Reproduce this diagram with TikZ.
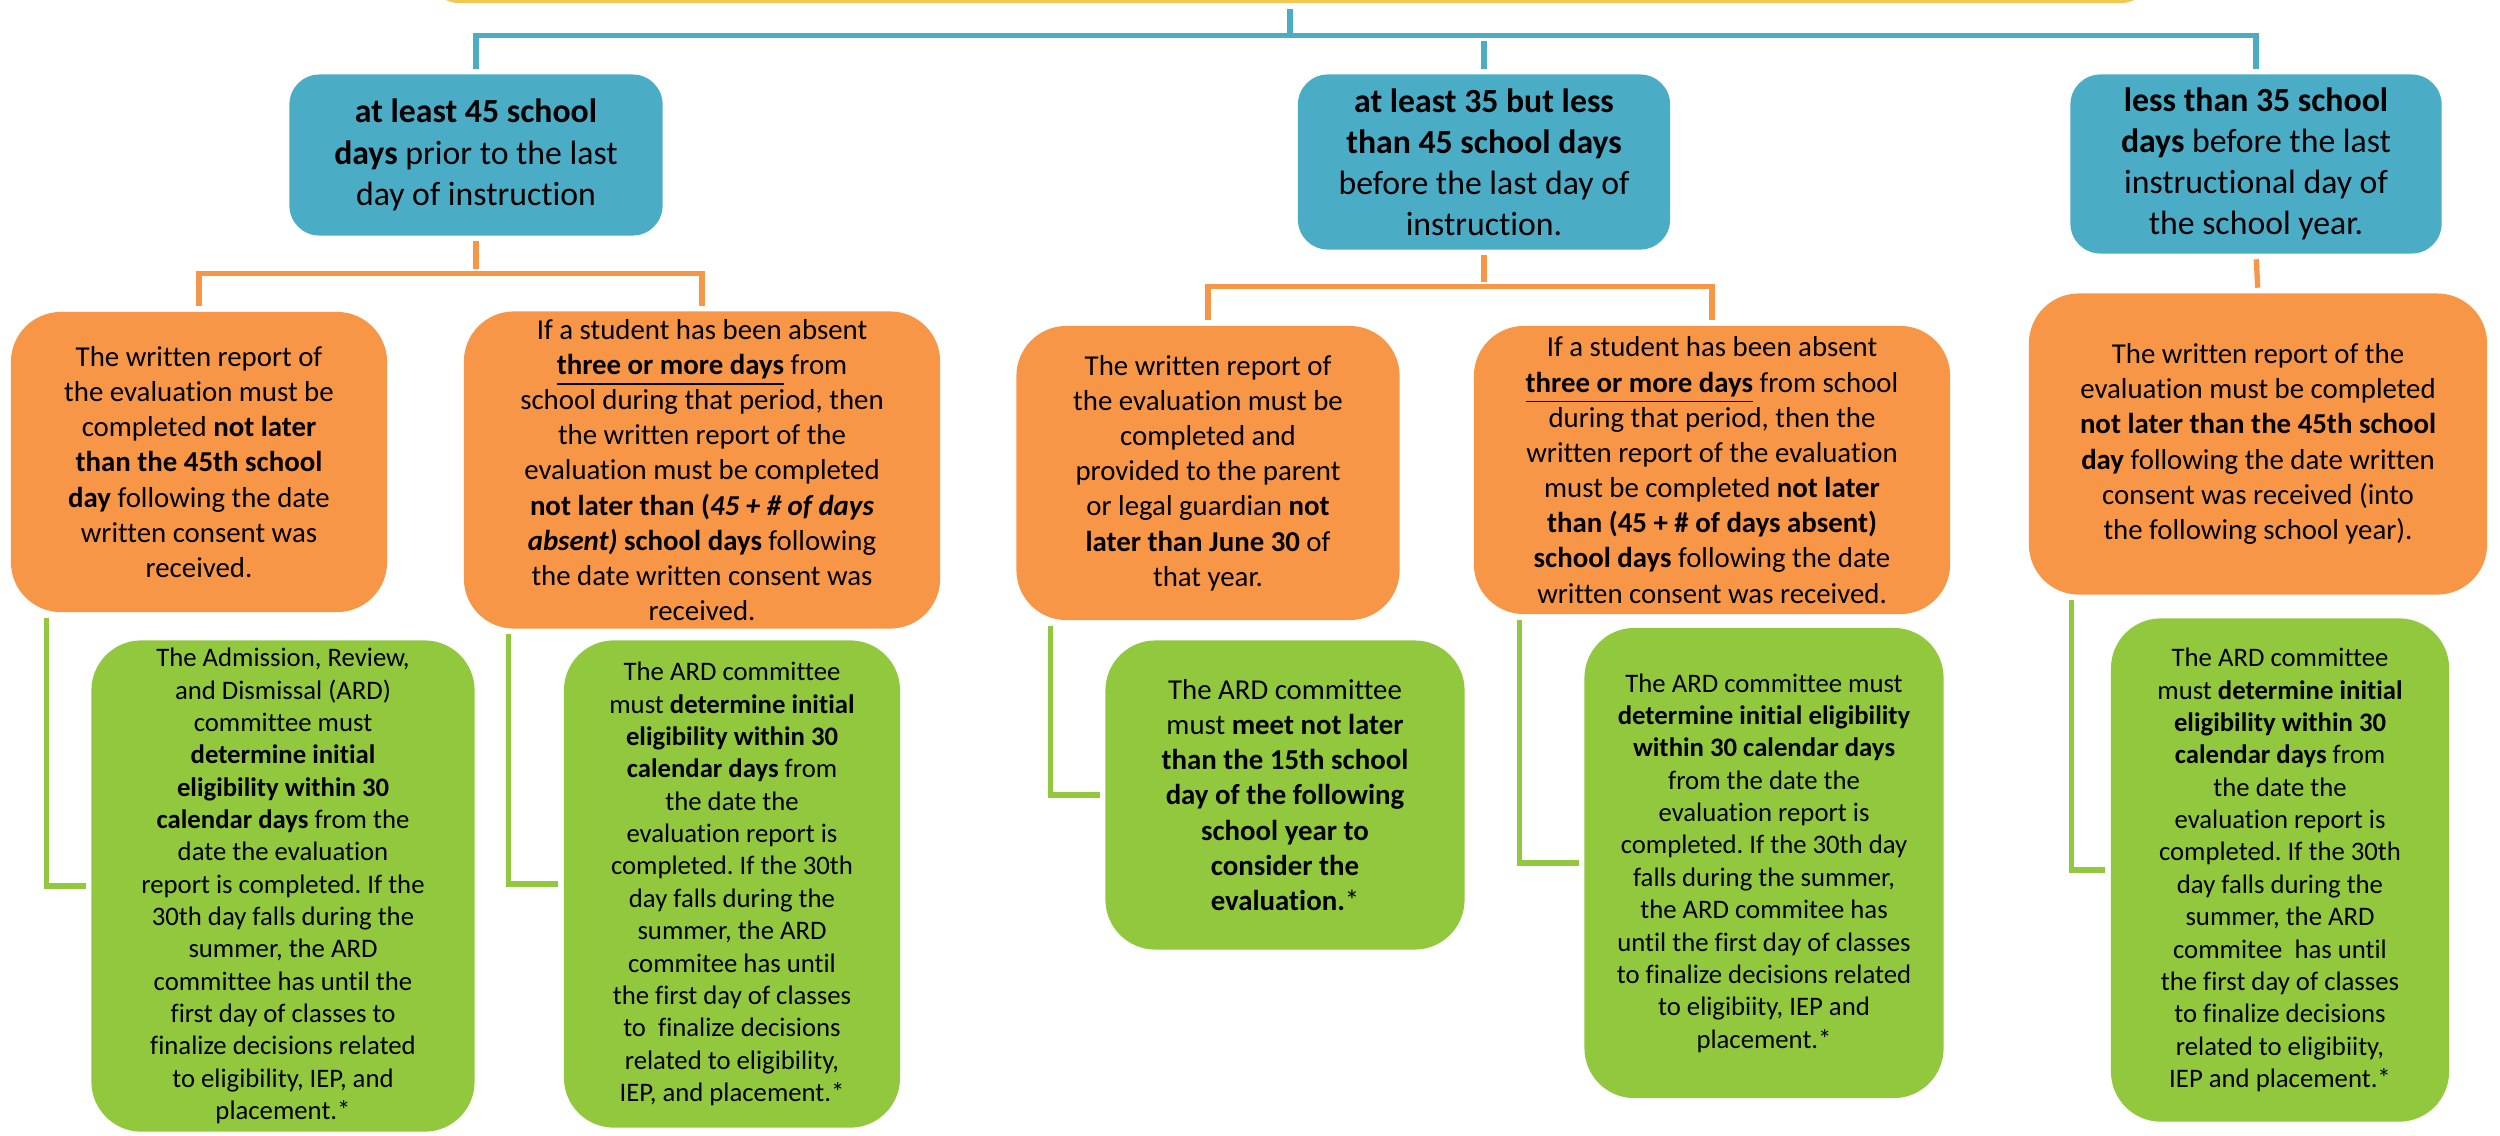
\documentclass[tikz,border=0pt]{standalone}
\usepackage{fontspec}
\setmainfont{Carlito}[Ligatures=NoCommon]
\usepackage{tikz}
\usetikzlibrary{calc}
\definecolor{ardyellow}{RGB}{243,200,80}
\definecolor{ardblue}{RGB}{75,172,198}
\definecolor{ardorange}{RGB}{247,150,70}
\definecolor{ardgreen}{RGB}{146,200,62}
\tikzset{tbox/.style={rounded corners=0.5cm, align=center, inner sep=2pt}}
\tikzset{titlebox/.style={tbox, rounded corners=0.3cm, fill=ardyellow}}
\tikzset{bluebox/.style={tbox, rounded corners=0.3cm, fill=ardblue, font=\fontsize{9.6}{11.7}\selectfont}}
\tikzset{orangebox/.style={tbox, fill=ardorange, font=\fontsize{8.2}{10}\selectfont}}
\tikzset{greenbox/.style={tbox, fill=ardgreen, font=\fontsize{7.6}{9.2}\selectfont}}
\tikzset{link/.style={line width=1.5pt, shorten <=0.05cm, shorten >=0.05cm}}
\tikzset{bluelink/.style={link, draw=ardblue}}
\tikzset{orangelink/.style={link, draw=ardorange}}
\tikzset{greenlink/.style={link, draw=ardgreen}}
\frenchspacing

\begin{document}
\begin{tikzpicture}[x=0.01cm, y=-0.01cm]
\path[use as bounding box, clip] (0,0) rectangle (2500,1135);

\node (title) at (1290,-47)[titlebox, minimum width=17.21cm, minimum height=1cm]{};

\node (b1) at (476,155)[bluebox, minimum width=3.73cm, minimum height=1.61cm]{\textbf{at least 45 school}\\\textbf{days} prior to the last\\day of instruction};
\node (b2) at (1484,162)[bluebox, minimum width=3.72cm, minimum height=1.75cm]{\textbf{at least 35 but less}\\\textbf{than 45 school days}\\before the last day of\\instruction.};
\node (b3) at (2256,164)[bluebox, minimum width=3.71cm, minimum height=1.79cm]{\textbf{less than 35 school}\\\textbf{days} before the last\\instructional day of\\the school year.};

\node (o1) at (199,462)[orangebox, minimum width=3.76cm, minimum height=3cm]{The written report of\\the evaluation must be\\completed \textbf{not later}\\\textbf{than the 45th school}\\\textbf{day} following the date\\written consent was\\received.};
\node (o2) at (702,470)[orangebox, minimum width=4.76cm, minimum height=3.17cm]{If a student has been absent\\\underline{\textbf{three or more days}} from\\school during that period, then\\the written report of the\\evaluation must be completed\\\textbf{not later than (\textit{45 + \# of days}}\\\textbf{\textit{absent)} school days} following\\the date written consent was\\received.};
\node (o3) at (1208,473)[orangebox, minimum width=3.83cm, minimum height=2.94cm]{The written report of\\the evaluation must be\\completed and\\provided to the parent\\or legal guardian \textbf{not}\\\textbf{later than June 30} of\\that year.};
\node (o4) at (1712,470)[orangebox, minimum width=4.76cm, minimum height=2.88cm]{If a student has been absent\\\underline{\textbf{three or more days}} from school\\during that period, then the\\written report of the evaluation\\must be completed \textbf{not later}\\\textbf{than (45 + \# of days absent)}\\\textbf{school days} following the date\\written consent was received.};
\node (o5) at (2258,444)[orangebox, minimum width=4.58cm, minimum height=3.01cm]{The written report of the\\evaluation must be completed\\\textbf{not later than the 45th school}\\\textbf{day} following the date written\\consent was received (into\\the following school year).};

\node (g1) at (283,886)[greenbox, minimum width=3.83cm, minimum height=4.91cm]{The Admission, Review,\\and Dismissal (ARD)\\committee must\\\textbf{determine initial}\\\textbf{eligibility within 30}\\\textbf{calendar days} from the\\date the evaluation\\report is completed. If the\\30th day falls during the\\summer, the ARD\\committee has until the\\first day of classes to\\finalize decisions related\\to eligibility, IEP, and\\placement.*};
\node (g2) at (732,884)[greenbox, minimum width=3.36cm, minimum height=4.87cm]{The ARD committee\\must \textbf{determine initial}\\\textbf{eligibility within 30}\\\textbf{calendar days} from\\the date the\\evaluation report is\\completed. If the 30th\\day falls during the\\summer, the ARD\\commitee has until\\the first day of classes\\to\ \ finalize decisions\\related to eligibility,\\IEP, and placement.*};
\node (g3) at (1285,795)[greenbox, minimum width=3.59cm, minimum height=3.09cm, font=\fontsize{8.2}{10}\selectfont]{The ARD committee\\must \textbf{meet not later}\\\textbf{than the 15th school}\\\textbf{day of the following}\\\textbf{school year to}\\\textbf{consider the}\\\textbf{evaluation.}*};
\node (g4) at (1764,863)[greenbox, minimum width=3.59cm, minimum height=4.7cm]{The ARD committee must\\\textbf{determine initial eligibility}\\\textbf{within 30 calendar days}\\from the date the\\evaluation report is\\completed. If the 30th day\\falls during the summer,\\the ARD commitee has\\until the first day of classes\\to finalize decisions related\\to eligibiity, IEP and\\placement.*};
\node (g5) at (2280,870)[greenbox, minimum width=3.38cm, minimum height=5.03cm]{The ARD committee\\must \textbf{determine initial}\\\textbf{eligibility within 30}\\\textbf{calendar days} from\\the date the\\evaluation report is\\completed. If the 30th\\day falls during the\\summer, the ARD\\commitee\ \ has until\\the first day of classes\\to finalize decisions\\related to eligibiity,\\IEP and placement.*};

% blue level
\draw[bluelink] (title.south) -- ++(0,34);
\draw[bluelink] (b1.north) -- ++(0,-38) -| (b3.north);
\draw[bluelink] (b2.north) -- ++(0,-38);

% orange level
\draw[orangelink] (b1.south) -- ++(0,38);
\draw[orangelink] (o1.north) -- ++(0,-38) -| (o2.north);
\draw[orangelink] (b2.south) -- ++(0,37);
\draw[orangelink] (o3.north) -- ++(0,-39) -| (o4.north);
\draw[orangelink] (b3.south) -- (o5.north);

% green level
\draw[greenlink] ([xshift=0.36cm]o1.south west) |- (g1.west);
\draw[greenlink] ([xshift=0.45cm]o2.south west) |- (g2.west);
\draw[greenlink] ([xshift=0.35cm]o3.south west) |- (g3.west);
\draw[greenlink] ([xshift=0.46cm]o4.south west) |- (g4.west);
\draw[greenlink] ([xshift=0.43cm]o5.south west) |- (g5.west);
\end{tikzpicture}
\end{document}
